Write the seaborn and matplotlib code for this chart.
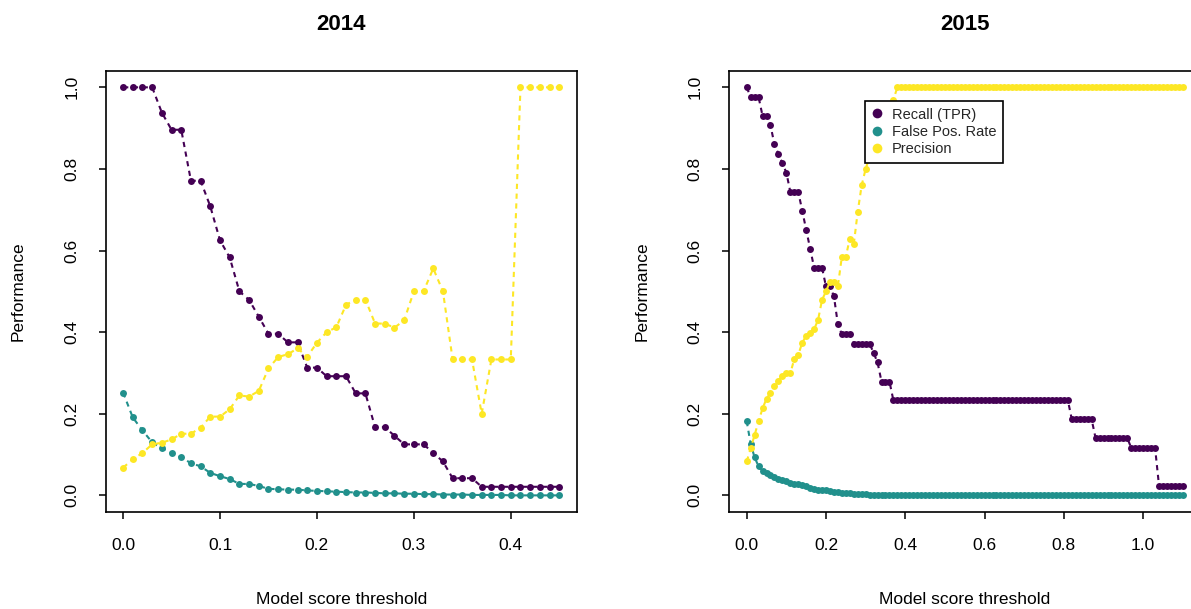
import matplotlib
matplotlib.use("Agg")
import matplotlib.pyplot as plt
from matplotlib.lines import Line2D
import seaborn as sns
import numpy as np
import pandas as pd

# 2014: thresholds 0.00 .. 0.45
thr_2014 = [round(0.01 * i, 2) for i in range(46)]
recall_2014 = [
    1.0, 1.0, 1.0, 1.0, 0.938, 0.896, 0.896, 0.771, 0.771, 0.708,
    0.625, 0.583, 0.500, 0.479, 0.438, 0.396, 0.396, 0.375, 0.375, 0.313,
    0.313, 0.292, 0.292, 0.292, 0.250, 0.250, 0.167, 0.167, 0.146, 0.125,
    0.125, 0.125, 0.104, 0.083, 0.042, 0.042, 0.042, 0.021, 0.021, 0.021,
    0.021, 0.021, 0.021, 0.021, 0.021, 0.021,
]
fpr_2014 = [
    0.252, 0.191, 0.159, 0.130, 0.115, 0.105, 0.093, 0.079, 0.071, 0.055,
    0.047, 0.040, 0.028, 0.028, 0.023, 0.016, 0.015, 0.014, 0.014, 0.012,
    0.011, 0.010, 0.009, 0.008, 0.007, 0.007, 0.006, 0.005, 0.005, 0.004,
    0.004, 0.003, 0.003, 0.002, 0.002, 0.002, 0.001, 0.001, 0.001, 0.001,
    0.0, 0.0, 0.0, 0.0, 0.0, 0.0,
]
precision_2014 = [
    0.068, 0.088, 0.104, 0.125, 0.129, 0.137, 0.151, 0.151, 0.166, 0.193,
    0.193, 0.211, 0.245, 0.242, 0.256, 0.311, 0.339, 0.346, 0.360, 0.340,
    0.374, 0.400, 0.412, 0.467, 0.480, 0.480, 0.421, 0.421, 0.411, 0.429,
    0.500, 0.500, 0.556, 0.500, 0.333, 0.333, 0.333, 0.200, 0.333, 0.333,
    0.333, 1.0, 1.0, 1.0, 1.0, 1.0,
]

# 2015: thresholds 0.00 .. 1.10
thr_2015 = [round(0.01 * i, 2) for i in range(111)]
recall_2015 = [
    1.0, 0.976, 0.976, 0.976, 0.930, 0.930, 0.907, 0.860, 0.837, 0.814,
    0.791, 0.744, 0.744, 0.744, 0.698, 0.651, 0.605, 0.558, 0.558, 0.558,
    0.512, 0.512, 0.488, 0.419, 0.395, 0.395, 0.395, 0.372, 0.372, 0.372,
    0.372, 0.372, 0.349, 0.326, 0.279, 0.279, 0.279, 0.233, 0.233, 0.233,
    0.233, 0.233, 0.233, 0.233, 0.233, 0.233, 0.233, 0.233, 0.233, 0.233,
    0.233, 0.233, 0.233, 0.233, 0.233, 0.233, 0.233, 0.233, 0.233, 0.233,
    0.233, 0.233, 0.233, 0.233, 0.233, 0.233, 0.233, 0.233, 0.233, 0.233,
    0.233, 0.233, 0.233, 0.233, 0.233, 0.233, 0.233, 0.233, 0.233, 0.233,
    0.233, 0.233, 0.186, 0.186, 0.186, 0.186, 0.186, 0.186, 0.140, 0.140,
    0.140, 0.140, 0.140, 0.140, 0.140, 0.140, 0.140, 0.116, 0.116, 0.116,
    0.116, 0.116, 0.116, 0.116, 0.023, 0.023, 0.023, 0.023, 0.023, 0.023,
    0.023,
]
fpr_2015 = [
    0.182, 0.126, 0.093, 0.071, 0.060, 0.055, 0.050, 0.045, 0.041, 0.037,
    0.034, 0.031, 0.029, 0.027, 0.025, 0.022, 0.019, 0.016, 0.014, 0.013,
    0.012, 0.010, 0.009, 0.008, 0.007, 0.006, 0.005, 0.004, 0.004, 0.003,
    0.003, 0.002, 0.002, 0.002, 0.001, 0.001, 0.001, 0.001, 0.0, 0.0,
    0.0, 0.0, 0.0, 0.0, 0.0, 0.0, 0.0, 0.0, 0.0, 0.0,
    0.0, 0.0, 0.0, 0.0, 0.0, 0.0, 0.0, 0.0, 0.0, 0.0,
    0.0, 0.0, 0.0, 0.0, 0.0, 0.0, 0.0, 0.0, 0.0, 0.0,
    0.0, 0.0, 0.0, 0.0, 0.0, 0.0, 0.0, 0.0, 0.0, 0.0,
    0.0, 0.0, 0.0, 0.0, 0.0, 0.0, 0.0, 0.0, 0.0, 0.0,
    0.0, 0.0, 0.0, 0.0, 0.0, 0.0, 0.0, 0.0, 0.0, 0.0,
    0.0, 0.0, 0.0, 0.0, 0.0, 0.0, 0.0, 0.0, 0.0, 0.0,
    0.0,
]
precision_2015 = [
    0.083, 0.115, 0.148, 0.182, 0.213, 0.237, 0.251, 0.267, 0.281, 0.293,
    0.299, 0.299, 0.334, 0.344, 0.374, 0.391, 0.399, 0.407, 0.430, 0.479,
    0.500, 0.524, 0.524, 0.513, 0.585, 0.585, 0.629, 0.615, 0.695, 0.760,
    0.800, 0.830, 0.860, 0.880, 0.900, 0.920, 0.950, 0.970, 1.0, 1.0,
    1.0, 1.0, 1.0, 1.0, 1.0, 1.0, 1.0, 1.0, 1.0, 1.0,
    1.0, 1.0, 1.0, 1.0, 1.0, 1.0, 1.0, 1.0, 1.0, 1.0,
    1.0, 1.0, 1.0, 1.0, 1.0, 1.0, 1.0, 1.0, 1.0, 1.0,
    1.0, 1.0, 1.0, 1.0, 1.0, 1.0, 1.0, 1.0, 1.0, 1.0,
    1.0, 1.0, 1.0, 1.0, 1.0, 1.0, 1.0, 1.0, 1.0, 1.0,
    1.0, 1.0, 1.0, 1.0, 1.0, 1.0, 1.0, 1.0, 1.0, 1.0,
    1.0, 1.0, 1.0, 1.0, 1.0, 1.0, 1.0, 1.0, 1.0, 1.0,
    1.0,
]

metrics = ["Recall (TPR)", "False Pos. Rate", "Precision"]
colors = {"Recall (TPR)": "#440154", "False Pos. Rate": "#21908C", "Precision": "#FDE725"}


def long_frame(thr, rec, fpr, prec):
    parts = []
    for name, vals in zip(metrics, [rec, fpr, prec]):
        parts.append(pd.DataFrame({"threshold": thr, "value": vals, "metric": name}))
    return pd.concat(parts, ignore_index=True)


sns.set_theme(style="ticks")
plt.rcParams["font.family"] = ["Liberation Sans", "DejaVu Sans"]

fig = plt.figure(figsize=(11.91, 6.09), dpi=100)
ax1 = fig.add_axes([0.0887, 0.1598, 0.3955, 0.7236])
ax2 = fig.add_axes([0.6123, 0.1598, 0.3955, 0.7236])

panels = [
    (ax1, "2014", long_frame(thr_2014, recall_2014, fpr_2014, precision_2014),
     (0, 0.45), np.arange(0, 0.41, 0.1)),
    (ax2, "2015", long_frame(thr_2015, recall_2015, fpr_2015, precision_2015),
     (0, 1.10), np.arange(0, 1.01, 0.2)),
]

for ax, title, df, (x0, x1), xt in panels:
    for name in metrics:
        sub = df[df["metric"] == name]
        sns.lineplot(data=sub, x="threshold", y="value", ax=ax, color=colors[name],
                     linestyle=(0, (2.5, 2.2)), linewidth=1.5, marker="o",
                     markersize=5, markeredgewidth=0, legend=False)
    pad = 0.04 * (x1 - x0)
    ax.set_xlim(x0 - pad, x1 + pad)
    ax.set_ylim(-0.04, 1.04)
    ax.set_xticks(xt)
    ax.set_xticklabels([f"{v:.1f}" for v in xt])
    ax.set_yticks(np.arange(0, 1.01, 0.2))
    ax.set_yticklabels([f"{v:.1f}" for v in np.arange(0, 1.01, 0.2)],
                       rotation=90, va="center")
    ax.tick_params(direction="out", length=5, width=1.1, colors="black",
                   labelsize=12.5, pad=14)
    for sp in ax.spines.values():
        sp.set_visible(True)
        sp.set_color("black")
        sp.set_linewidth(1.2)
    ax.set_xlabel("Model score threshold", fontsize=12.5, color="black")
    ax.set_ylabel("Performance", fontsize=12.5, color="black")
    ax.xaxis.set_label_coords(0.5, -0.2)
    ax.xaxis.label.set_va("center")
    ax.yaxis.set_label_coords(-0.186, 0.5)
    ax.yaxis.label.set_va("center")
    ax.text(0.5, 1.105, title, transform=ax.transAxes, ha="center", va="center",
            fontsize=16, fontweight="bold", color="black")

handles = [Line2D([], [], marker="o", linestyle="none", color=colors[m],
                  markersize=7, markeredgewidth=0) for m in metrics]
leg = ax2.legend(handles, metrics, loc="upper left", bbox_to_anchor=(0.288, 0.932),
                 borderaxespad=0, fontsize=10.5, frameon=True, fancybox=False,
                 framealpha=1, edgecolor="black", handlelength=0.8,
                 handletextpad=0.6, labelspacing=0.22, borderpad=0.45)
leg.get_frame().set_linewidth(1.2)

fig.savefig("out.png", dpi=100)
